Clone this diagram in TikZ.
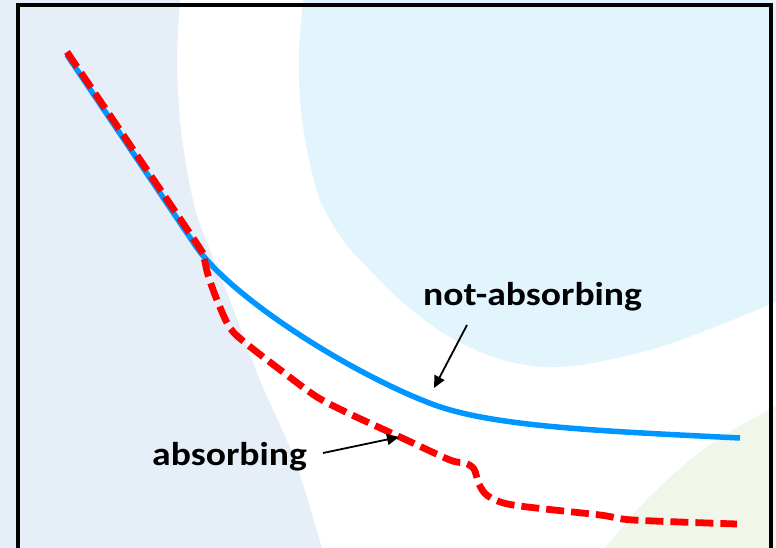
\documentclass[tikz,border=0pt]{standalone}
\usepackage{fontspec}
\setmainfont{Carlito}
\usetikzlibrary{arrows.meta}
\definecolor{leftbg}{HTML}{E6EFF7}
\definecolor{circbg}{HTML}{E2F4FC}
\definecolor{greenbg}{HTML}{F1F6EA}
\definecolor{bluecurve}{HTML}{0096FF}
\definecolor{redcurve}{HTML}{FF0000}
\tikzset{
  lbl/.style={anchor=base west, inner sep=0pt, font=\bfseries\fontsize{33}{38}\selectfont},
  pointer/.style={-{Triangle[length=12pt,width=11pt]}, line width=1.8pt, black},
  bluepath/.style={bluecurve, line width=5.5pt},
  redpath/.style={redcurve, line width=6.8pt, dash pattern=on 18pt off 7pt},
}
\begin{document}
\begin{tikzpicture}[x=1pt,y=-1pt]
\useasboundingbox (0,0) rectangle (776,548);
% backgrounds
\fill[leftbg] (0,0) rectangle (776,548);
\fill[white] plot[smooth] coordinates {(180,0) (177,60) (180,120) (187,170) (196,212) (210,250) (230,300) (260,380) (295,460) (322,548)} -- (776,548) -- (776,0) -- cycle;
\fill[circbg] plot[smooth] coordinates {(303,0) (299,50) (300,100) (307,150) (320,200) (343,240) (367,267) (400,300) (443,333) (493,357) (543,367) (593,363) (660,347) (720,325) (776,302)} -- (776,0) -- cycle;
\fill[greenbg] plot[smooth] coordinates {(605,548) (635,512) (667,480) (700,452) (733,430) (776,406)} -- (776,548) -- cycle;
% frame
\draw[line width=3.5pt, line join=miter] (18,550) -- (18,5) -- (771,5) -- (771,550);
% curves
\coordinate (bstart) at (67,55);
\coordinate (bsplit) at (195,245);
\coordinate (bknee) at (432,404);
\coordinate (bend) at (740,438);
\draw[bluepath] (bstart) -- (bsplit) .. controls (230,297) and (350,373) .. (bknee) .. controls (492,426.7) and (600,431) .. (bend);
\draw[redpath] plot[smooth, tension=0.5] coordinates {(67,52) (130,145) (199,247) (204,258) (208,275) (217,300) (230,328) (248,345) (283,372) (317,397) (350,414) (400,437) (450,460) (465,463) (474,469) (479,484) (488,496) (513,505) (600,515) (633,520) (737,524)};
% labels
\node[lbl] (lblna) at (423,305) {\scalebox{1.14}[1]{not-absorbing}};
\node[lbl] (lbla) at (152,465) {\scalebox{1.14}[1]{absorbing}};
\coordinate (nastart) at (467,325);
\coordinate (naend) at (434,388);
\coordinate (astart) at (323,453);
\coordinate (aend) at (399,437);
\draw[pointer] (nastart) -- (naend);
\draw[pointer] (astart) -- (aend);
\end{tikzpicture}
\end{document}
